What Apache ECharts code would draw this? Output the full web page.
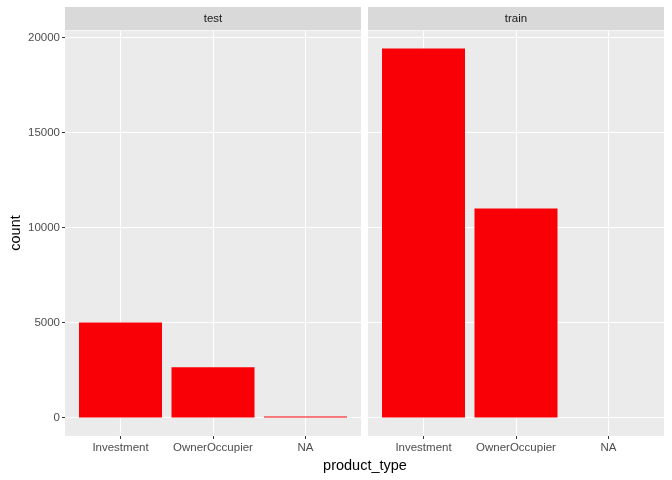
<!DOCTYPE html>
<html>
<head>
<meta charset="utf-8">
<script src="https://cdn.jsdelivr.net/npm/echarts@6/dist/echarts.min.js"></script>
<style>
  html, body { margin: 0; padding: 0; background: #fff; }
  #chart { width: 672px; height: 480px; }
</style>
</head>
<body>
<div id="chart"></div>
<script>
    var categories = ['Investment', 'OwnerOccupier', 'NA'];
    var panels = ['test', 'train'];
    var testCounts = [5000, 2640, 55];
    var trainCounts = [19420, 11000, 0];
    var yTicks = [0, 5000, 10000, 15000, 20000];
    var yMinorTicks = [2500, 7500, 12500, 17500];

    // ggplot style expansion: 5% on y, 0.6 units on discrete x
    var yMax = 19420 * 1.05;
    var yMin = -19420 * 0.05;
    var positions = [1, 2, 3];

    var barColor = '#f90007';
    var textColor = '#4d4d4d';

    var grids = [
        {left: 65, top: 30, width: 296, height: 406},
        {left: 368, top: 30, width: 296, height: 406}
    ];

    function toPoints(values) {
        return values.map(function (v, i) { return [positions[i], v]; });
    }

    var xAxes = [];
    var yAxes = [];
    var series = [];
    var graphics = [];

    [testCounts, trainCounts].forEach(function (counts, p) {
        xAxes.push({
            type: 'value',
            gridIndex: p,
            position: 'bottom',
            min: 0.4,
            max: 3.6,
            axisLine: {show: false, onZero: false},
            axisTick: {show: true, length: 3, customValues: positions, lineStyle: {color: '#333', width: 1}},
            axisLabel: {
                customValues: positions,
                color: textColor,
                fontSize: 11.5,
                margin: 6,
                formatter: function (v) { return categories[Math.round(v) - 1]; }
            },
            splitLine: {show: true, customValues: positions, lineStyle: {color: '#fff', width: 1.1}}
        });
        // major y axis (data)
        yAxes.push({
            type: 'value',
            gridIndex: p,
            min: yMin,
            max: yMax,
            axisLine: {show: false, onZero: false},
            axisTick: {show: p === 0, length: 3, customValues: yTicks, lineStyle: {color: '#333', width: 1}},
            axisLabel: {
                show: p === 0,
                customValues: yTicks,
                color: textColor,
                fontSize: 11.5,
                margin: 5,
                formatter: function (v) { return String(v); }
            },
            splitLine: {show: true, customValues: yTicks, lineStyle: {color: '#fff', width: 1.1}},
            name: p === 0 ? 'count' : '',
            nameLocation: 'middle',
            nameGap: 42,
            nameTextStyle: {color: '#000', fontSize: 14.5}
        });
        // minor grid lines
        yAxes.push({
            type: 'value',
            gridIndex: p,
            min: yMin,
            max: yMax,
            axisLine: {show: false, onZero: false},
            axisTick: {show: false},
            axisLabel: {show: false},
            splitLine: {show: true, customValues: yMinorTicks, lineStyle: {color: '#fff', width: 0.55}}
        });
        series.push({
            type: 'bar',
            xAxisIndex: p,
            yAxisIndex: p * 2,
            barWidth: 83,
            itemStyle: {color: barColor},
            data: toPoints(counts),
            z: 5
        });
        graphics.push({
            type: 'rect',
            shape: {x: grids[p].left, y: 7, width: grids[p].width, height: 23},
            style: {fill: '#d9d9d9'}
        });
        graphics.push({
            type: 'text',
            x: grids[p].left + grids[p].width / 2,
            y: 19,
            style: {text: panels[p], fill: '#1a1a1a', font: '11.5px "Liberation Sans", Arial, sans-serif', align: 'center', verticalAlign: 'middle'}
        });
    });

    // x title sits under both panels
    graphics.push({
        type: 'text',
        x: 365,
        y: 466,
        style: {text: 'product_type', fill: '#000', font: '14.5px "Liberation Sans", Arial, sans-serif', align: 'center', verticalAlign: 'middle'}
    });

    var chart = echarts.init(document.getElementById('chart'));
    chart.setOption({
        backgroundColor: '#fff',
        animation: false,
        textStyle: {fontFamily: 'Liberation Sans, Arial, sans-serif'},
        grid: grids.map(function (g) {
            return {left: g.left, top: g.top, width: g.width, height: g.height,
                    show: true, backgroundColor: '#ebebeb', borderWidth: 0};
        }),
        xAxis: xAxes,
        yAxis: yAxes,
        series: series,
        graphic: graphics
    });
</script>
</body>
</html>
